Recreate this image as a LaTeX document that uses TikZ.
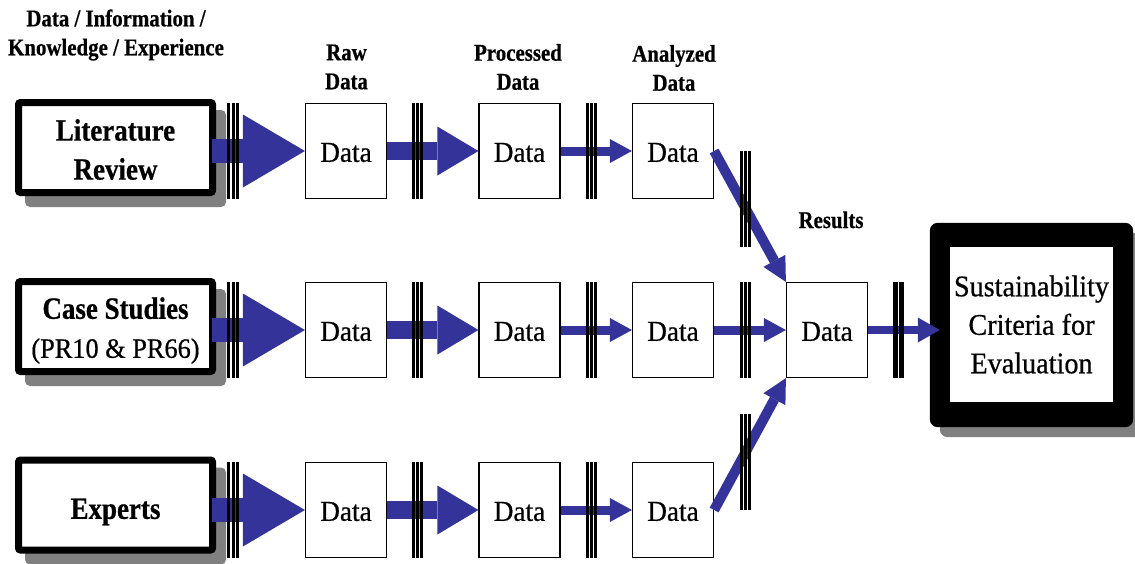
\documentclass[tikz,border=0pt]{standalone}
\usepackage{fontspec}
\setmainfont{Liberation Serif}
\newfontfamily\hdfont[FakeStretch=0.87,FakeBold=0.6]{Liberation Serif}
\newfontfamily\plainfont[FakeStretch=0.94,FakeBold=0.6]{Liberation Serif}
\usetikzlibrary{arrows.meta,backgrounds,calc}
\definecolor{flow}{HTML}{333399}
\definecolor{shadowgray}{HTML}{808080}
\newcommand\lowered[2]{\raisebox{-#1}[\height][\depth]{#2}}
\tikzset{
  lab/.style={font=\hdfont\bfseries\fontsize{24}{29}\selectfont, align=center, inner sep=0pt},
  srcnode/.style={draw, line width=7pt, rounded corners=2pt, fill=white,
    minimum width=194pt, minimum height=90pt, align=center, inner sep=0pt,
    font=\hdfont\bfseries\fontsize{31}{39}\selectfont},
  datanode/.style={draw, line width=1.2pt, fill=white, minimum width=81pt,
    minimum height=95pt, inner sep=0pt, font=\plainfont\fontsize{29}{34}\selectfont},
  goalnode/.style={fill=white, minimum width=163pt, minimum height=155pt,
    align=center, inner sep=0pt, font=\plainfont\fontsize{30}{38.5}\selectfont},
  flowbig/.style={draw=flow, line width=24pt,
    -{Triangle[length=62pt,width=73pt,line width=0pt]}},
  flowmid/.style={draw=flow, line width=18pt,
    -{Triangle[length=41pt,width=49pt,line width=0pt]}},
  flowthin/.style={draw=flow, line width=9pt,
    -{Triangle[length=22pt,width=24pt,line width=0pt]}},
  flowdiag/.style={draw=flow, line width=10pt,
    -{Triangle[length=24pt,width=25pt,line width=0pt]}},
  flowout/.style={draw=flow, line width=8pt,
    -{Triangle[length=22pt,width=25pt,line width=0pt]}},
  pics/gatewide/.style={code={
    \foreach \dx in {-4.5,0,4.5} \draw[line width=3pt] (\dx,-48) -- (\dx,48);}},
  pics/gatethin/.style={code={
    \foreach \dx in {-4,0,4} \draw[line width=3pt] (\dx,-48) -- (\dx,48);}},
  pics/gatesolid/.style={code={
    \foreach \dx in {-2.8,2.8} \draw[line width=5.2pt] (\dx,-48) -- (\dx,48);}},
}
\begin{document}
\begin{tikzpicture}[x=1pt,y=-1pt]
\useasboundingbox (0,0) rectangle (1135,563);

% column headings
\node[lab] (hdr) at (116,35) {Data / Information /\\Knowledge / Experience};
\node[lab] (rawlab) at (346.5,67) {Raw\\Data};
\node[lab] (proclab) at (518,67) {Processed\\Data};
\node[lab] (analab) at (674,68) {Analyzed\\Data};
\node[lab, anchor=base] (reslab) at (831,228) {Results};

% sources
\node[srcnode] (lit) at (115.5,147.5)
  {\lowered{2pt}{Literature}\\\lowered{2pt}{Review}};
\node[srcnode] (case) at (115.5,326.5)
  {\lowered{4pt}{Case Studies}\\
   {\plainfont\mdseries\fontsize{28}{39}\selectfont\lowered{4pt}{(PR10 \& PR66)}}};
\node[srcnode] (exp) at (115.5,505) {\lowered{7pt}{Experts}};

% data stages
\foreach \r/\y in {1/151,2/330,3/510}{
  \node[datanode] (d\r1) at (346,\y) {\lowered{1.5pt}{Data}};
  \node[datanode] (d\r2) at (519.5,\y) {\lowered{1.5pt}{Data}};
  \node[datanode] (d\r3) at (673,\y) {\lowered{1.5pt}{Data}};
}
\node[datanode] (res) at (827,330) {\lowered{1.5pt}{Data}};

% final criteria box
\node[goalnode] (goal) at (1031.5,324.5)
  {Sustainability\\Criteria for\\Evaluation};

% shadows and the heavy frame
\begin{scope}[on background layer]
  \foreach \s in {lit,case,exp}
    \fill[shadowgray, rounded corners=5pt]
      ($(\s.north west)+(10,11)$) rectangle ($(\s.south east)+(10,11)$);
  \fill[shadowgray, rounded corners=8pt]
    ($(goal.north west)+(-10,-14)$) rectangle ($(goal.south east)+(30,35)$);
  \fill[black, rounded corners=8pt]
    ($(goal.north west)+(-20,-24)$) rectangle ($(goal.south east)+(20,25)$);
\end{scope}

% flows
\foreach \s/\r in {lit/1,case/2,exp/3}{
  \draw[flowbig] ($(\s.east |- d\r1.west)+(-4,0)$) -- (d\r1.west);
  \draw[flowmid] (d\r1.east) -- (d\r2.west);
  \draw[flowthin] (d\r2.east) -- (d\r3.west);
}
\draw[flowdiag] (d13.east) -- (res.north west);
\draw[flowthin] (d23.east) -- (res.west);
\draw[flowdiag] (d33.east) -- (res.south west);
\draw[flowout] (res.east) -- ($(goal.west |- res.east)+(-10,0)$);

% gates
\foreach \y in {151,330,510}{
  \pic at (233,\y) {gatewide};
  \pic at (417.5,\y) {gatethin};
  \pic at (591.5,\y) {gatethin};
}
\pic at (745,199) {gatethin};
\pic at (745,330) {gatethin};
\pic at (745,462) {gatethin};
\pic at (898.5,330) {gatesolid};
\end{tikzpicture}
\end{document}
